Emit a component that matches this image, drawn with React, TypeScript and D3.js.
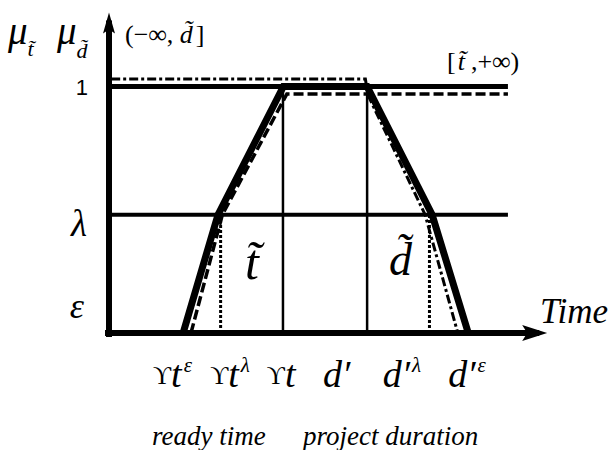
import React from "react";
import * as d3 from "d3";

// ---- data (membership functions, time axis in arbitrary units) ----
const lambdaLevel = 0.48;
const epsilonLevel = 0.09;
const topLevel = 1;

const thickX = [1.7, 2.5, 4.0, 5.92, 7.41, 8.24];
const thickMu = [0, lambdaLevel, 1, 1, lambdaLevel, 0];

const dashedX = [1.88, 2.6, 4.08, 9.15];
const dashedMu = [0, lambdaLevel, 0.97, 0.97];

const dashDotX = [0.05, 5.88, 5.94, 7.25, 8.0];
const dashDotMu = [1.03, 1.03, 0.965, lambdaLevel, 0];

const thinVertX = [3.99, 5.92];
const dottedVertX = [2.56, 7.35];
const hLineEnd = 9.15;

const tickLabelX = [1.01, 2.32, 3.62, 4.91, 6.28, 7.78];
const tickMain = ["t", "t", "t", "d′", "d′", "d′"];
const tickHook = [true, true, true, false, false, false];
const tickSup = ["ε", "λ", "", "", "λ", "ε"];

const W = 609;
const H = 450;

const serif = "'Liberation Serif', 'Times New Roman', serif";
const T = "\u0303"; // combining tilde

export default function App() {
  const x = d3.scaleLinear().domain([0, 10]).range([109, 545]);
  const y = d3.scaleLinear().domain([0, 1]).range([333, 86.5]);

  const line = d3
    .line<[number, number]>()
    .x((d) => x(d[0]))
    .y((d) => y(d[1]));

  const thick = line(thickX.map((v, i) => [v, thickMu[i]]) as [number, number][]);
  const dashed = line(dashedX.map((v, i) => [v, dashedMu[i]]) as [number, number][]);
  const dashDot = line(dashDotX.map((v, i) => [v, dashDotMu[i]]) as [number, number][]);

  const x0 = x(0);
  const y0 = y(0);
  const yTop = y(1.3);
  const xEnd = x(10.05);

  return (
    <svg width={W} height={H} style={{ position: "absolute", left: 0, top: 0, background: "#fff" }}>
      {/* horizontal reference lines */}
      <line x1={x0} x2={x(hLineEnd)} y1={y(topLevel)} y2={y(topLevel)} stroke="#000" strokeWidth={5} />
      <line x1={x0} x2={x(hLineEnd)} y1={y(lambdaLevel)} y2={y(lambdaLevel)} stroke="#000" strokeWidth={4} />

      {/* thin verticals */}
      {thinVertX.map((v, i) => (
        <line key={"tv" + i} x1={x(v)} x2={x(v)} y1={y(0)} y2={y(1)} stroke="#000" strokeWidth={2.5} />
      ))}
      {/* dotted verticals */}
      {dottedVertX.map((v, i) => (
        <line key={"dv" + i} x1={x(v)} x2={x(v)} y1={y(0)} y2={y(lambdaLevel)} stroke="#000" strokeWidth={3} strokeDasharray="3,2" />
      ))}

      {/* membership functions */}
      <path d={dashDot ?? ""} fill="none" stroke="#000" strokeWidth={3} strokeDasharray="9,3,3,3" />
      <path d={dashed ?? ""} fill="none" stroke="#000" strokeWidth={3.5} strokeDasharray="10,4" />
      <path d={thick ?? ""} fill="none" stroke="#000" strokeWidth={7} strokeLinejoin="miter" />

      {/* axes */}
      <line x1={x0} x2={x0} y1={y0 + 4} y2={yTop + 8} stroke="#000" strokeWidth={6} />
      <path d={`M${x0},${yTop} L${x0 + 6},${yTop + 21} L${x0},${yTop + 17} L${x0 - 6},${yTop + 21} Z`} fill="#000" />
      <line x1={x0 - 4} x2={xEnd - 8} y1={y0} y2={y0} stroke="#000" strokeWidth={6} />
      <path d={`M${xEnd},${y0} L${xEnd - 25},${y0 - 8} L${xEnd - 20},${y0} L${xEnd - 25},${y0 + 8} Z`} fill="#000" />

      {/* y labels */}
      <text x={x0 - 21} y={y(topLevel) + 8} textAnchor="end" fontFamily="'Liberation Sans', Arial, sans-serif" fontSize={22}>1</text>
      <text x={x0 - 22} y={y(lambdaLevel) + 21} textAnchor="end" fontFamily={serif} fontStyle="italic" fontSize={37}>λ</text>
      <text x={x0 - 25} y={y(epsilonLevel) + 7} textAnchor="end" fontFamily={serif} fontStyle="italic" fontSize={36}>ε</text>

      {/* mu labels */}
      <text x={8} y={44} fontFamily={serif} fontStyle="italic" fontSize={39}>
        <tspan>μ</tspan>
        <tspan fontSize={22} dy={12}>{"t" + T}</tspan>
      </text>
      <text x={57} y={44} fontFamily={serif} fontStyle="italic" fontSize={39}>
        <tspan>μ</tspan>
        <tspan fontSize={22} dy={14}>{"d" + T}</tspan>
      </text>

      {/* interval labels */}
      <text x={125} y={43} fontFamily={serif} fontSize={26}>
        <tspan>(−∞, </tspan>
        <tspan fontStyle="italic">{"d" + T}</tspan>
        <tspan dx={3}>]</tspan>
      </text>

      <text x={447} y={70} fontFamily={serif} fontSize={26}>
        <tspan>[</tspan>
        <tspan fontStyle="italic" dx={2}>{"t" + T}</tspan>
        <tspan dx={6}>,+∞)</tspan>
      </text>

      {/* big fuzzy number labels */}
      <text x={245} y={279} fontFamily={serif} fontStyle="italic" fontSize={50}>{"t" + T}</text>
      <text x={389} y={275} fontFamily={serif} fontStyle="italic" fontSize={46}>{"d" + T}</text>

      {/* axis title */}
      <text x={540} y={323} fontFamily={serif} fontStyle="italic" fontSize={35}>Time</text>

      {/* tick labels */}
      {tickLabelX.map((v, i) => (
        <text key={"tl" + i} x={x(v)} y={387} fontFamily={serif} fontStyle="italic" fontSize={38}>
          {tickHook[i] ? <tspan fontSize={25} fontStyle="normal" dy={-3}>ϒ</tspan> : null}
          <tspan dy={tickHook[i] ? 3 : 0}>{tickMain[i]}</tspan>
          {tickSup[i] ? <tspan fontSize={21} dy={-15} dx={2}>{tickSup[i]}</tspan> : null}
        </text>
      ))}

      <text x={152} y={445} fontFamily={serif} fontStyle="italic" fontSize={27}>ready time</text>
      <text x={303} y={445} fontFamily={serif} fontStyle="italic" fontSize={27}>project duration</text>
    </svg>
  );
}
